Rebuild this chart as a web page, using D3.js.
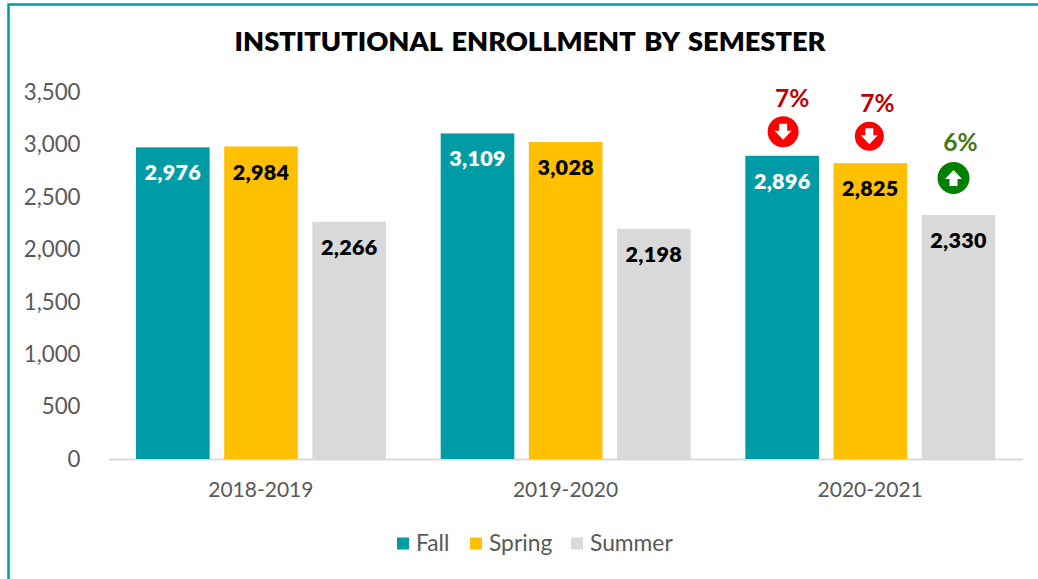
<!DOCTYPE html>
<html><head><meta charset="utf-8">
<script src="https://cdnjs.cloudflare.com/ajax/libs/d3/7.8.5/d3.min.js"></script>
<style>html,body{margin:0;padding:0;background:#fff}svg{display:block}text{font-family:Lato,sans-serif}</style>
</head><body><svg id="c" width="1038" height="579"></svg>
<script>
const years = ["2018-2019","2019-2020","2020-2021"];
const semesters = ["Fall","Spring","Summer"];
const fall = [2976,3109,2896];
const spring = [2984,3028,2825];
const summer = [2266,2198,2330];
const yTicks = [0,500,1000,1500,2000,2500,3000,3500];
const changes = [
  {semester:"Fall",year:"2020-2021",label:"7%",dir:"down"},
  {semester:"Spring",year:"2020-2021",label:"7%",dir:"down"},
  {semester:"Summer",year:"2020-2021",label:"6%",dir:"up"}
];
const seriesBySem = {Fall:fall,Spring:spring,Summer:summer};
const colors = {Fall:"#009ca6",Spring:"#ffc000",Summer:"#d9d9d9"};
const labelColors = {Fall:"#ffffff",Spring:"#000000",Summer:"#000000"};
const svg = d3.select("#c");
const fmt = d3.format(",");

// frame
svg.append("path").attr("d","M8.5,579V4.5H1038").attr("fill","none").attr("stroke","#009ca6").attr("stroke-width",2.5);

svg.append("text").attr("x",530).attr("y",50.5).attr("text-anchor","middle")
  .attr("font-size",27.2).attr("font-weight",800).attr("fill","#000").attr("word-spacing",3)
  .text("INSTITUTIONAL ENROLLMENT BY SEMESTER");

const x0 = d3.scaleBand().domain(years).range([108.5,1022.5]);
const x1 = d3.scaleBand().domain(semesters).range([27.5,277.5]).paddingInner(0.165);
const y = d3.scaleLinear().domain([0,3500]).range([459,92.5]);

// axes
const ax = svg.append("g").attr("transform","translate(0,459)")
  .call(d3.axisBottom(x0).tickSize(0).tickPadding(23));
ax.select(".domain").attr("stroke","#d9d9d9").attr("stroke-width",2);
ax.selectAll("text").attr("font-size",21).attr("fill","#595959").style("font-family","Lato");

const ay = svg.append("g").attr("transform","translate(80.5,0)")
  .call(d3.axisLeft(y).tickValues(yTicks).tickSize(0).tickPadding(0).tickFormat(fmt));
ay.select(".domain").remove();
ay.selectAll("text").attr("font-size",22.3).attr("fill","#595959").style("font-family","Lato");

// bars
semesters.forEach(s=>{
  const g = svg.append("g");
  const vals = seriesBySem[s];
  g.selectAll("rect").data(years).join("rect")
    .attr("x",d=>x0(d)+x1(s)).attr("width",x1.bandwidth())
    .attr("y",(d,i)=>y(vals[i])).attr("height",(d,i)=>y(0)-y(vals[i]))
    .attr("fill",colors[s]);
  g.selectAll("text").data(years).join("text")
    .attr("x",d=>x0(d)+x1(s)+x1.bandwidth()/2)
    .attr("y",(d,i)=>y(vals[i])+33)
    .attr("text-anchor","middle").attr("font-size",21.5).attr("font-weight",800)
    .attr("fill",labelColors[s]).attr("letter-spacing",0.3)
    .text((d,i)=>fmt(vals[i]));
});

// change annotations
const iconOffset = {Fall:[1,-24,15.5,9,-25],Spring:[-1,-27,14.5,8,-24],Summer:[-5,-37,16,7,-27]};
changes.forEach(c=>{
  const v = seriesBySem[c.semester][years.indexOf(c.year)];
  const [dx,dy,r,tx,ty] = iconOffset[c.semester];
  const cx = x0(c.year)+x1(c.semester)+x1.bandwidth()/2 + dx;
  const cy = y(v) + dy;
  const col = c.dir==="down"?"#ff0000":"#008000";
  const g = svg.append("g").attr("transform",`translate(${cx},${cy})`);
  g.append("circle").attr("r",r).attr("fill",col);
  const arrow = c.dir==="down"
    ? "M-4,-8H4V-1H8.5L0,8L-8.5,-1H-4Z"
    : "M-4,8H4V1H8.5L0,-8L-8.5,1H-4Z";
  g.append("path").attr("d",arrow).attr("fill","#fff");
  svg.append("text").attr("x",cx+tx).attr("y",cy+ty)
    .attr("text-anchor","middle").attr("font-size",24.5).attr("font-weight",700)
    .attr("fill",c.dir==="down"?"#c00000":"#3f7a10").text(c.label);
});

// legend
const legendX = {Fall:396,Spring:469,Summer:570};
const lg = svg.append("g");
semesters.forEach(s=>{
  lg.append("rect").attr("x",legendX[s]+1).attr("y",537.5).attr("width",12).attr("height",12).attr("fill",colors[s]);
  lg.append("text").attr("x",legendX[s]+20).attr("y",550.5).attr("font-size",22.8).attr("fill","#595959").text(s);
});
</script></body></html>
